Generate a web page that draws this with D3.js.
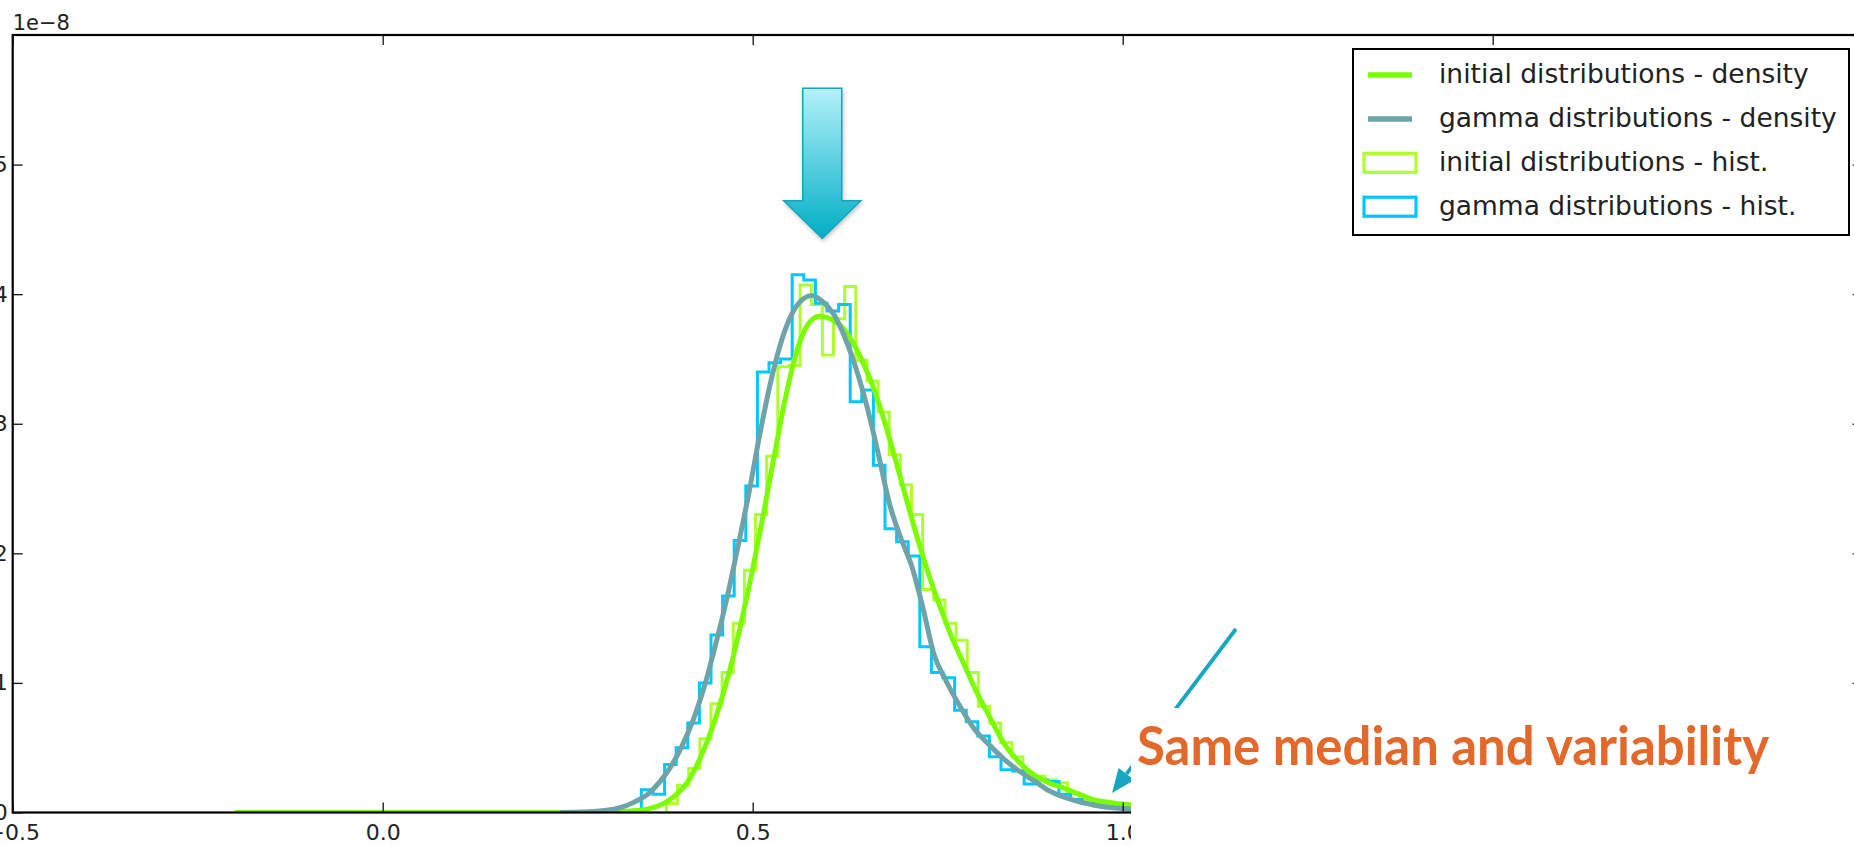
<!DOCTYPE html>
<html>
<head>
<meta charset="utf-8">
<script src="https://cdn.jsdelivr.net/npm/d3@7"></script>
<style>
  html, body { margin: 0; padding: 0; background: #ffffff; }
  svg { display: block; }
</style>
</head>
<body>
<svg id="chart" width="1854" height="845"></svg>
<script>
// ---------------- data (densities in units of 1e-8) ----------------
const xTicks = [-0.5, 0.0, 0.5, 1.0, 1.5, 2.0];
const yTicks = [0, 1, 2, 3, 4, 5];
const offsetLabel = "1e\u22128";

// histogram of the gamma draws: first bin edge, bin width, step heights
const gammaBinStart = 0.3496;
const gammaBinWidth = 0.015676;
const gammaHist = [
  0.175, 0.14, 0.37, 0.50, 0.69, 1.00, 1.37, 1.67, 2.10, 2.52,
  3.40, 3.47, 3.50, 4.15, 4.11, 3.93, 3.87, 3.92, 3.17, 3.26,
  2.68, 2.19, 2.09, 1.98, 1.28, 1.08, 1.04, 0.79, 0.70, 0.59,
  0.43, 0.33, 0.32, 0.22, 0.25, 0.24, 0.14, 0.10, 0.07, 0.05,
  0.04, 0.03, 0.02, 0.02, 0.01, 0.01
];

// histogram of the initial draws
const initialBinStart = 0.3834;
const initialBinWidth = 0.015054;
const initialHist = [
  0.07, 0.21, 0.34, 0.57, 0.84, 1.08, 1.46, 1.87, 2.30, 2.75,
  3.44, 3.45, 4.07, 3.92, 3.53, 3.81, 4.06, 3.49, 3.33, 3.09,
  2.76, 2.53, 2.30, 1.72, 1.64, 1.46, 1.33, 1.08, 0.82, 0.69,
  0.54, 0.43, 0.30, 0.28, 0.25, 0.23, 0.15, 0.10, 0.08, 0.06,
  0.05, 0.04, 0.03, 0.02, 0.02, 0.01
];

// density of the initial distributions
const initialDensityX = [
  -0.2, 0.24, 0.30, 0.33, 0.36, 0.38, 0.395, 0.41, 0.425, 0.44,
  0.455, 0.47, 0.485, 0.50, 0.515, 0.53, 0.545, 0.56, 0.575, 0.59,
  0.605, 0.62, 0.635, 0.65, 0.665, 0.68, 0.695, 0.71, 0.725, 0.74,
  0.755, 0.77, 0.785, 0.80, 0.82, 0.84, 0.86, 0.88, 0.90, 0.92,
  0.94, 0.96, 0.98, 1.00, 1.05, 1.10, 1.20, 1.30
];
const initialDensityY = [
  0, 0, 0.003, 0.01, 0.03, 0.07, 0.13, 0.22, 0.37, 0.57,
  0.82, 1.12, 1.48, 1.88, 2.32, 2.78, 3.22, 3.57, 3.77, 3.83,
  3.81, 3.75, 3.63, 3.46, 3.25, 2.98, 2.68, 2.37, 2.07, 1.80,
  1.56, 1.34, 1.15, 0.96, 0.74, 0.53, 0.39, 0.29, 0.23, 0.19,
  0.145, 0.10, 0.08, 0.065, 0.035, 0.015, 0.004, 0.001
];

// density of the gamma distributions
const gammaDensityX = [
  0.24, 0.28, 0.30, 0.32, 0.34, 0.36, 0.375, 0.39, 0.405, 0.42,
  0.435, 0.45, 0.465, 0.48, 0.495, 0.51, 0.525, 0.54, 0.555, 0.57,
  0.58, 0.595, 0.61, 0.625, 0.64, 0.655, 0.67, 0.685, 0.70, 0.715,
  0.73, 0.745, 0.76, 0.78, 0.80, 0.82, 0.84, 0.86, 0.88, 0.90,
  0.92, 0.94, 0.96, 0.98, 1.00, 1.05, 1.10, 1.20
];
const gammaDensityY = [
  0, 0.005, 0.015, 0.035, 0.08, 0.15, 0.24, 0.36, 0.52, 0.72,
  0.98, 1.30, 1.65, 2.05, 2.47, 2.93, 3.34, 3.66, 3.87, 3.97,
  3.99, 3.94, 3.84, 3.66, 3.42, 3.12, 2.76, 2.38, 2.12, 1.90,
  1.58, 1.22, 1.03, 0.82, 0.64, 0.52, 0.41, 0.32, 0.245, 0.17,
  0.12, 0.085, 0.06, 0.04, 0.03, 0.015, 0.008, 0.002
];

const legendLabels = [
  "initial distributions - density",
  "gamma distributions - density",
  "initial distributions - hist.",
  "gamma distributions - hist."
];
const calloutText = "Same median and variability";

// annotation anchors in data units
const peakArrow = { x: 0.594, top: 5.59, neck: 4.72, tip: 4.43 };
const calloutArrow = { x0: 1.153, y0: 1.416, x1: 0.9856, y1: 0.15 };

// ---------------- layout ----------------
const plot = { left: 12.7, right: 1862.7, top: 35, bottom: 812.5 };
const colors = {
  initialDensity: "#7CFC00",
  gammaDensity: "#6DA3A9",
  initialHist: "#ADFF2F",
  gammaHist: "#00C8FF",
  callout: "#17A6C0",
  calloutText: "#E2692A"
};
const tickFont = "DejaVu Sans, Verdana, sans-serif";

const svg = d3.select("#chart");
const x = d3.scaleLinear().domain([-0.5, 2.0]).range([plot.left, plot.right]);
const y = d3.scaleLinear().domain([0, 6]).range([plot.bottom, plot.top]);

const defs = svg.append("defs");
defs.append("clipPath").attr("id", "plotClip")
  .append("rect")
  .attr("x", plot.left).attr("y", plot.top)
  .attr("width", plot.right - plot.left).attr("height", plot.bottom - plot.top);

const grad = defs.append("linearGradient").attr("id", "arrowFill")
  .attr("x1", 0).attr("y1", 0).attr("x2", 0).attr("y2", 1);
grad.append("stop").attr("offset", "0%").attr("stop-color", "#B4F1FA");
grad.append("stop").attr("offset", "100%").attr("stop-color", "#00AEC6");

const shadow = defs.append("filter").attr("id", "softShadow")
  .attr("x", "-30%").attr("y", "-30%").attr("width", "160%").attr("height", "160%");
shadow.append("feDropShadow").attr("dx", 1).attr("dy", 2)
  .attr("stdDeviation", 2).attr("flood-color", "#000").attr("flood-opacity", 0.25);

// ---------------- histograms (step outlines) ----------------
function stepPoints(start, width, values) {
  const pts = [[start, 0]];
  values.forEach((v, i) => {
    pts.push([start + i * width, v]);
    pts.push([start + (i + 1) * width, v]);
  });
  pts.push([start + values.length * width, 0]);
  return pts;
}
const stepLine = d3.line().x(d => x(d[0])).y(d => y(d[1]));

const marks = svg.append("g").attr("clip-path", "url(#plotClip)");

marks.append("path")
  .attr("d", stepLine(stepPoints(initialBinStart, initialBinWidth, initialHist)))
  .attr("fill", "none").attr("stroke", colors.initialHist)
  .attr("stroke-width", 3).attr("stroke-linejoin", "miter");

marks.append("path")
  .attr("d", stepLine(stepPoints(gammaBinStart, gammaBinWidth, gammaHist)))
  .attr("fill", "none").attr("stroke", colors.gammaHist)
  .attr("stroke-width", 3).attr("stroke-linejoin", "miter");

// ---------------- density curves ----------------
const curve = d3.line().x(d => x(d[0])).y(d => y(d[1])).curve(d3.curveMonotoneX);

marks.append("path")
  .attr("d", curve(d3.zip(initialDensityX, initialDensityY)))
  .attr("fill", "none").attr("stroke", colors.initialDensity)
  .attr("stroke-width", 5).attr("stroke-linejoin", "round");

marks.append("path")
  .attr("d", curve(d3.zip(gammaDensityX, gammaDensityY)))
  .attr("fill", "none").attr("stroke", colors.gammaDensity)
  .attr("stroke-width", 5).attr("stroke-linejoin", "round");

// ---------------- frame and ticks ----------------
svg.append("rect")
  .attr("x", plot.left).attr("y", plot.top)
  .attr("width", plot.right - plot.left).attr("height", plot.bottom - plot.top)
  .attr("fill", "none").attr("stroke", "#000").attr("stroke-width", 2.2);

function styleAxis(g) {
  g.select(".domain").remove();
  g.selectAll(".tick line").attr("stroke", "#111").attr("stroke-width", 1.3);
  g.selectAll(".tick text")
    .attr("fill", "#222")
    .style("font-family", tickFont)
    .style("font-size", "22px");
}

svg.append("g")
  .attr("transform", `translate(0,${plot.bottom})`)
  .call(d3.axisBottom(x).tickValues(xTicks).tickSizeInner(-10).tickSizeOuter(0)
    .tickPadding(12).tickFormat(d3.format(".1f")))
  .call(styleAxis);

svg.append("g")
  .attr("transform", `translate(0,${plot.top})`)
  .call(d3.axisTop(x).tickValues(xTicks).tickSizeInner(-10).tickSizeOuter(0)
    .tickFormat(""))
  .call(styleAxis);

svg.append("g")
  .attr("transform", `translate(${plot.left},0)`)
  .call(d3.axisLeft(y).tickValues(yTicks).tickSizeInner(-10).tickSizeOuter(0)
    .tickPadding(5).tickFormat(d3.format("d")))
  .call(styleAxis);

svg.append("g")
  .attr("transform", `translate(${plot.right},0)`)
  .call(d3.axisRight(y).tickValues(yTicks.concat([6])).tickSizeInner(-10).tickSizeOuter(0)
    .tickFormat(""))
  .call(styleAxis);

svg.append("text")
  .attr("x", plot.left).attr("y", 30)
  .attr("fill", "#222")
  .style("font-family", tickFont).style("font-size", "21px")
  .text(offsetLabel);

// ---------------- legend ----------------
const legend = svg.append("g").attr("transform", "translate(1353,49)");
legend.append("rect")
  .attr("width", 496).attr("height", 186)
  .attr("fill", "#fff").attr("stroke", "#000").attr("stroke-width", 2);

const legendKinds = [
  { type: "line", color: colors.initialDensity },
  { type: "line", color: colors.gammaDensity },
  { type: "box", color: colors.initialHist },
  { type: "box", color: colors.gammaHist }
];
legendLabels.forEach((label, i) => {
  const rowY = 26 + i * 43.9;
  const k = legendKinds[i];
  if (k.type === "line") {
    legend.append("line")
      .attr("x1", 15).attr("x2", 59).attr("y1", rowY).attr("y2", rowY)
      .attr("stroke", k.color).attr("stroke-width", 5.5);
  } else {
    legend.append("rect")
      .attr("x", 11).attr("y", rowY - 9.5).attr("width", 52).attr("height", 19)
      .attr("fill", "#fff").attr("stroke", k.color).attr("stroke-width", 3.2);
  }
  legend.append("text")
    .attr("x", 86).attr("y", rowY).attr("dy", "0.31em")
    .attr("fill", "#222")
    .style("font-family", tickFont).style("font-size", "26.5px")
    .text(label);
});

// ---------------- peak arrow ----------------
{
  const cx = x(peakArrow.x);
  const top = y(peakArrow.top), neck = y(peakArrow.neck), tip = y(peakArrow.tip);
  const shaft = 19.5, head = 38.5;
  const p = d3.path();
  p.moveTo(cx - shaft, top);
  p.lineTo(cx + shaft, top);
  p.lineTo(cx + shaft, neck);
  p.lineTo(cx + head, neck);
  p.lineTo(cx, tip);
  p.lineTo(cx - head, neck);
  p.lineTo(cx - shaft, neck);
  p.closePath();
  svg.append("path")
    .attr("d", p.toString())
    .attr("fill", "url(#arrowFill)")
    .attr("stroke", "#1AA3BB").attr("stroke-width", 1.5)
    .attr("stroke-linejoin", "miter")
    .attr("filter", "url(#softShadow)");
}

// ---------------- callout arrow ----------------
{
  const sx = x(calloutArrow.x0), sy = y(calloutArrow.y0);
  const ex = x(calloutArrow.x1), ey = y(calloutArrow.y1);
  const len = Math.hypot(ex - sx, ey - sy);
  const ux = (ex - sx) / len, uy = (ey - sy) / len;
  const headLen = 24, headHalf = 10;
  const bx = ex - ux * headLen, by = ey - uy * headLen;
  svg.append("line")
    .attr("x1", sx).attr("y1", sy).attr("x2", bx).attr("y2", by)
    .attr("stroke", colors.callout).attr("stroke-width", 3.8);
  svg.append("path")
    .attr("d", `M${ex},${ey}L${bx - uy * headHalf},${by + ux * headHalf}L${bx + uy * headHalf},${by - ux * headHalf}Z`)
    .attr("fill", colors.callout);
}

// ---------------- callout text box ----------------
svg.append("rect")
  .attr("x", 1131).attr("y", 708).attr("width", 1854 - 1131).attr("height", 845 - 708)
  .attr("fill", "#fff");

svg.append("text")
  .attr("x", 1137).attr("y", 765)
  .attr("textLength", 632).attr("lengthAdjust", "spacingAndGlyphs")
  .attr("fill", colors.calloutText)
  .style("font-family", "Lato, 'Open Sans', sans-serif")
  .style("font-weight", 700)
  .style("font-size", "54px")
  .text(calloutText);
</script>
</body>
</html>
